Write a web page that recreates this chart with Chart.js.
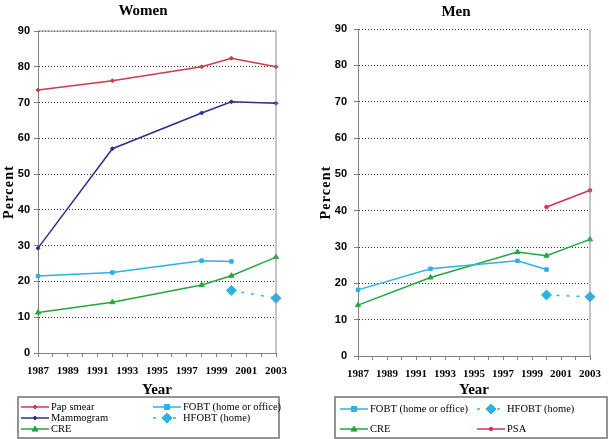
<!DOCTYPE html>
<html>
<head>
<meta charset="utf-8">
<script src="https://cdn.jsdelivr.net/npm/chart.js@4/dist/chart.umd.min.js"></script>
<style>
  body { margin: 0; background: #fff; }
  #wrap { position: relative; width: 609px; height: 439px; }
  #women { position: absolute; left: 0; top: 0; }
  #men { position: absolute; left: 305px; top: 0; }
</style>
</head>
<body>
<div id="wrap">
  <canvas id="women" width="305" height="439"></canvas>
  <canvas id="men" width="304" height="439"></canvas>
</div>
<script>
// survey years
var years5 = [1987, 1992, 1998, 2000, 2003];
var years4 = [1987, 1992, 1998, 2000];
var years2 = [2000, 2003];
var tickYears = [1987, 1989, 1991, 1993, 1995, 1997, 1999, 2001, 2003];

// women
var papSmear = [73.5, 76.1, 80.0, 82.4, 80.0];
var mammogram = [29.3, 57.1, 67.1, 70.2, 69.8];
var fobtWomen = [21.5, 22.5, 25.8, 25.6];
var hfobtWomen = [17.5, 15.3];
var creWomen = [11.3, 14.2, 19.0, 21.6, 26.8];

// men
var fobtMen = [18.2, 24.0, 26.2, 23.8];
var hfobtMen = [16.8, 16.3];
var creMen = [14.0, 21.6, 28.6, 27.6, 32.1];
var psaMen = [41.0, 45.6];

var RED = '#cf3a4a', NAVY = '#2e318c', CYAN = '#2cb2e4', GREEN = '#22a83a', PSA = '#d42f5c';
var SERIF = '"Liberation Serif", "Times New Roman", serif';
var SANS = '"Liberation Sans", Arial, sans-serif';

function pts(xs, ys) {
  return xs.map(function (x, i) { return { x: x, y: ys[i] }; });
}

function series(label, xs, ys, color, style, r, dashed) {
  return {
    label: label,
    data: pts(xs, ys),
    borderColor: color,
    backgroundColor: color,
    borderWidth: 1.5,
    borderDash: dashed ? [3, 7] : [],
    pointStyle: style,
    pointRadius: r,
    pointHoverRadius: r,
    pointBorderWidth: 1,
    tension: 0,
    clip: false
  };
}

function drawMarker(ctx, style, r, x, y, color) {
  ctx.save();
  ctx.fillStyle = color;
  ctx.strokeStyle = color;
  ctx.lineWidth = 1;
  ctx.setLineDash([]);
  ctx.beginPath();
  if (style === 'rect') {
    ctx.rect(x - r, y - r, 2 * r, 2 * r);
  } else if (style === 'rectRot') {
    ctx.moveTo(x, y - r); ctx.lineTo(x + r, y); ctx.lineTo(x, y + r); ctx.lineTo(x - r, y);
    ctx.closePath();
  } else if (style === 'triangle') {
    ctx.moveTo(x, y - r); ctx.lineTo(x + r, y + r * 0.7); ctx.lineTo(x - r, y + r * 0.7);
    ctx.closePath();
  } else {
    ctx.arc(x, y, r, 0, Math.PI * 2);
  }
  ctx.fill();
  ctx.stroke();
  ctx.restore();
}

// titles, "Percent", frame and the boxed legend
var decor = {
  id: 'decor',
  afterDraw: function (chart, args, o) {
    var ctx = chart.ctx, a = chart.chartArea;
    ctx.save();
    // plot frame
    ctx.strokeStyle = '#8a8a9a';
    ctx.lineWidth = 1;
    ctx.beginPath();
    if (o.frameTop) { ctx.moveTo(a.left, a.top); ctx.lineTo(a.right, a.top); }
    ctx.moveTo(a.right, a.top); ctx.lineTo(a.right, a.bottom);
    ctx.stroke();

    ctx.fillStyle = '#000';
    ctx.font = 'bold 15px ' + SERIF;
    ctx.textAlign = 'center';
    ctx.textBaseline = 'middle';
    ctx.fillText(o.title, o.titleX, o.titleY);

    ctx.save();
    ctx.translate(o.percentX, (a.top + a.bottom) / 2);
    ctx.rotate(-Math.PI / 2);
    ctx.font = 'bold 14px ' + SERIF;
    ctx.letterSpacing = '1.2px';
    ctx.fillText('Percent', 0, 0);
    ctx.restore();

    // legend
    var b = o.box;
    ctx.strokeStyle = '#707070';
    ctx.lineWidth = 1.5;
    ctx.strokeRect(b.x, b.y, b.w, b.h);
    ctx.font = '10.5px ' + SERIF;
    ctx.textAlign = 'left';
    o.items.forEach(function (it) {
      var ds = chart.data.datasets[it.ds];
      var x0 = o.cols[it.col], y = o.rows[it.row];
      ctx.strokeStyle = ds.borderColor;
      ctx.lineWidth = 1.5;
      ctx.setLineDash(ds.borderDash.length ? [3, 7] : []);
      ctx.beginPath();
      ctx.moveTo(x0, y);
      ctx.lineTo(x0 + 28, y);
      ctx.stroke();
      ctx.setLineDash([]);
      drawMarker(ctx, ds.pointStyle, ds.pointRadius, x0 + 14, y, ds.borderColor);
      ctx.fillStyle = '#000';
      ctx.fillText(ds.label, x0 + 30, y + 0.5);
    });
    ctx.restore();
  }
};

function makeOptions(yWidth, xHeight, pad, yPad, extra) {
  return {
    responsive: false,
    animation: false,
    layout: { padding: pad },
    plugins: { legend: { display: false }, tooltip: { enabled: false }, decor: extra },
    scales: {
      x: {
        type: 'linear', min: 1987, max: 2003,
        afterFit: function (s) { s.height = xHeight; },
        afterBuildTicks: function (s) {
          var t = [];
          for (var yr = 1987; yr <= 2003; yr++) t.push({ value: yr });
          s.ticks = t;
        },
        grid: { drawOnChartArea: false, drawTicks: true, tickLength: 4, color: '#808080' },
        border: { color: '#808080', width: 1 },
        ticks: {
          autoSkip: false, maxRotation: 0, padding: 8, color: '#000',
          font: { family: SERIF, size: 11, weight: 'bold' },
          callback: function (v) { return tickYears.indexOf(v) >= 0 ? String(v) : ''; }
        },
        title: {
          display: true, text: 'Year', color: '#000', padding: { top: 0, bottom: 0 },
          font: { family: SERIF, size: 15, weight: 'bold' }
        }
      },
      y: {
        min: 0, max: 90,
        afterFit: function (s) { s.width = yWidth; },
        grid: {
          color: function (c) { return c.tick && c.tick.value === 0 ? 'rgba(0,0,0,0)' : '#333'; },
          tickColor: '#808080', tickLength: 4, lineWidth: 1
        },
        border: { color: '#808080', width: 1, dash: [1, 2] },
        ticks: {
          stepSize: 10, padding: yPad, color: '#000',
          font: { family: SANS, size: 11, weight: 'bold' }
        }
      }
    }
  };
}

new Chart(document.getElementById('women'), {
  type: 'line',
  data: {
    datasets: [
      series('Pap smear', years5, papSmear, RED, 'rectRot', 2, false),
      series('Mammogram', years5, mammogram, NAVY, 'rectRot', 2, false),
      series('CRE', years5, creWomen, GREEN, 'triangle', 3, false),
      series('FOBT (home or office)', years4, fobtWomen, CYAN, 'rect', 2.5, false),
      series('HFOBT (home)', years2, hfobtWomen, CYAN, 'rectRot', 5, true)
    ]
  },
  options: makeOptions(38, 46, { top: 31, right: 29, bottom: 40, left: 0 }, 4, {
    title: 'Women', titleX: 143, titleY: 11, percentX: 9, frameTop: true,
    box: { x: 18, y: 397, w: 261, h: 41 },
    cols: [21, 153], rows: [407, 418, 429],
    items: [
      { ds: 0, col: 0, row: 0 }, { ds: 1, col: 0, row: 1 }, { ds: 2, col: 0, row: 2 },
      { ds: 3, col: 1, row: 0 }, { ds: 4, col: 1, row: 1 }
    ]
  }),
  plugins: [decor]
});

new Chart(document.getElementById('men'), {
  type: 'line',
  data: {
    datasets: [
      series('FOBT (home or office)', years4, fobtMen, CYAN, 'rect', 2.5, false),
      series('HFOBT (home)', years2, hfobtMen, CYAN, 'rectRot', 5, true),
      series('CRE', years5, creMen, GREEN, 'triangle', 3, false),
      series('PSA', years2, psaMen, PSA, 'circle', 1.8, false)
    ]
  },
  options: makeOptions(53, 43, { top: 29, right: 12, bottom: 40, left: 0 }, 7, {
    title: 'Men', titleX: 151, titleY: 12, percentX: 21, frameTop: false,
    box: { x: 30, y: 397, w: 272, h: 41 },
    cols: [35, 172], rows: [409, 429],
    items: [
      { ds: 0, col: 0, row: 0 }, { ds: 1, col: 1, row: 0 },
      { ds: 2, col: 0, row: 1 }, { ds: 3, col: 1, row: 1 }
    ]
  }),
  plugins: [decor]
});
</script>
</body>
</html>
